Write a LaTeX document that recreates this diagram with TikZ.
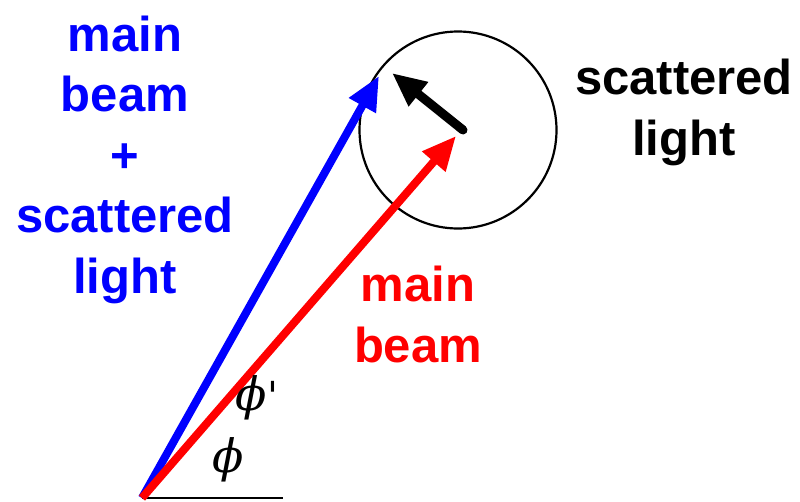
\documentclass[tikz,border=0pt]{standalone}
\usepackage{fontspec}
\setmainfont{Liberation Sans}
\newfontfamily\phifont{DejaVu Serif}
\usetikzlibrary{arrows.meta}
\begin{document}
\begin{tikzpicture}[x=1pt,y=-1pt,
  lbl/.style={font=\fontsize{49}{60.5}\selectfont\bfseries, align=center, anchor=base, inner sep=0pt},
  beam/.style={line width=8pt, -{Triangle[length=34pt,width=29pt]}},
  ang/.style={inner sep=0pt, font=\phifont\itshape\fontsize{46}{46}\selectfont}]
\useasboundingbox (0,0) rectangle (800,501);
\coordinate (O) at (142,498);
\coordinate (E) at (283,498);
\coordinate (B) at (379,76);
\coordinate (R) at (456,136);
\coordinate (C) at (458,130);
\coordinate (Cs) at (463,130);
\coordinate (S) at (392,73);
\node[draw, circle, line width=2.2pt, minimum size=197pt, inner sep=0pt] (circ) at (C) {};
\draw[line width=2pt] (O) -- (E);
\draw[beam, blue] (O) -- (B);
\draw[beam, red] (O) -- (R);
\draw[beam, black, line width=9pt, line cap=round] (Cs) -- (S);
\node[lbl, blue] (t1) at (125,293) {main\\beam\\+\\scattered\\light};
\node[lbl, red] (t2) at (418,362) {main\\beam};
\node[lbl, black] (t3) at (684,155) {scattered\\light};
\node[ang] (p1) at (257,398) {ϕ\upshape\fontsize{40}{40}\selectfont'};
\node[ang] (p2) at (228,460) {ϕ};
\end{tikzpicture}
\end{document}
